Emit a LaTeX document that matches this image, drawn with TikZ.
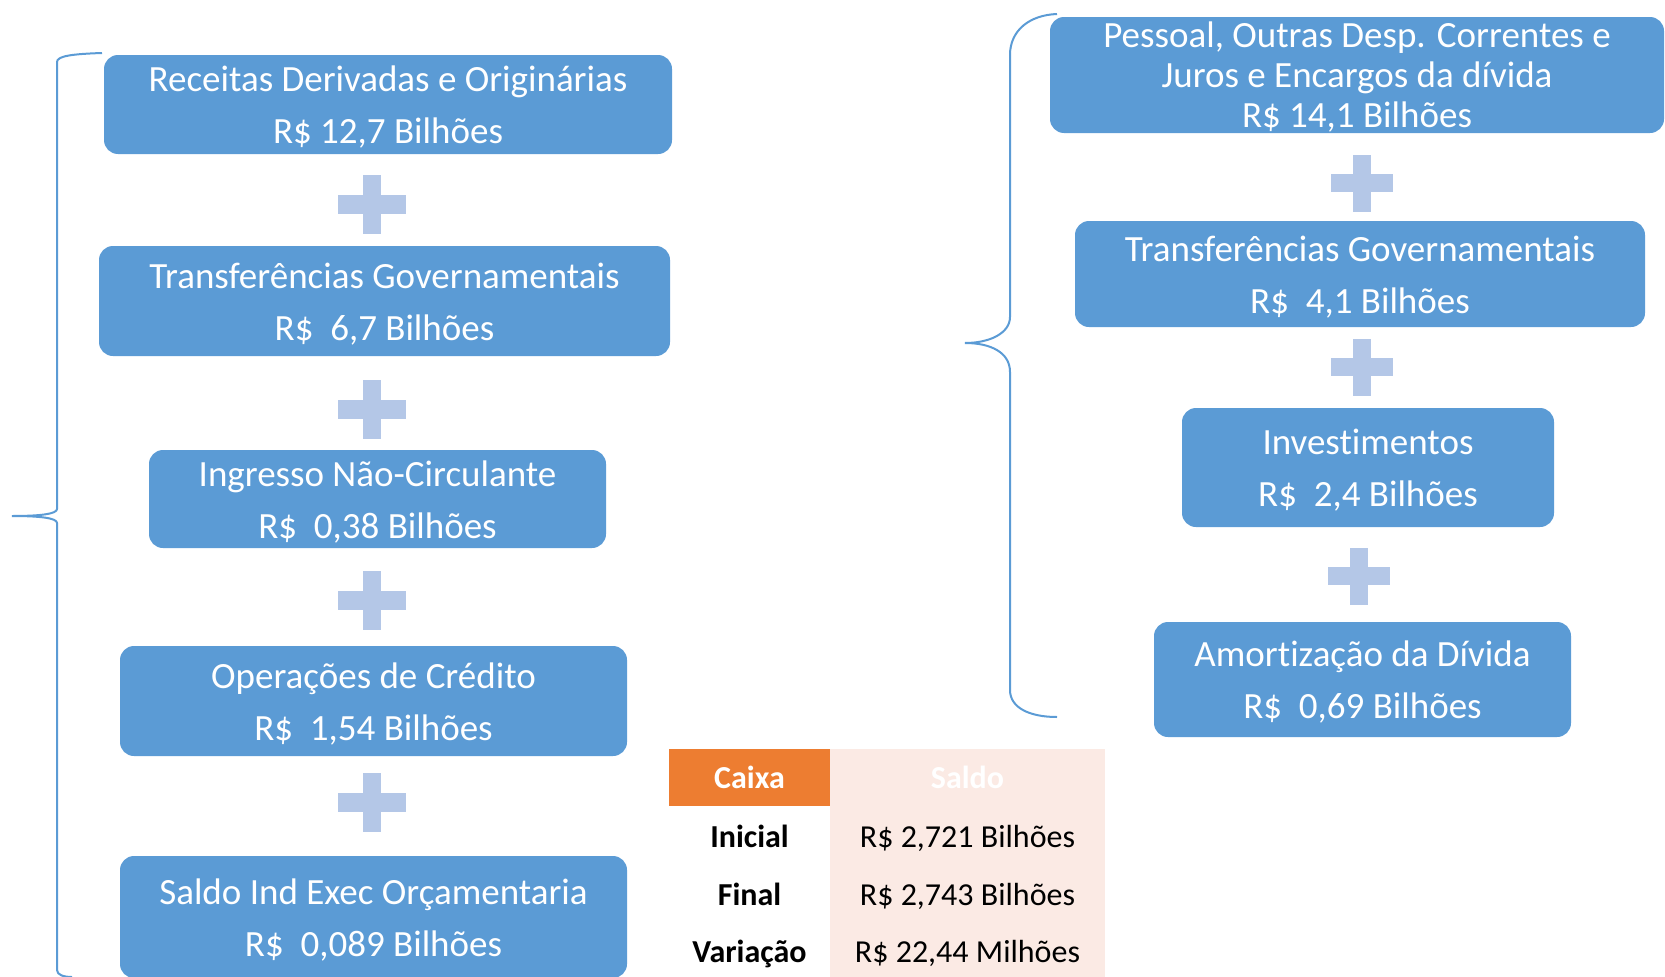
\documentclass[tikz,border=0pt]{standalone}
\usepackage{fontspec}
\setmainfont[Ligatures={NoCommon}]{Carlito}
\definecolor{boxblue}{HTML}{5B9BD5}
\definecolor{plusblue}{HTML}{B4C7E7}
\definecolor{cxorange}{HTML}{ED7D31}
\definecolor{cxpink}{HTML}{FBEAE4}
\newcommand\boxtopstrut{\rule{0pt}{34pt}}
\newcommand\boxbotstrut{\rule[-8pt]{0pt}{0pt}}
\newcommand\smtopstrut{\rule{0pt}{30pt}}
\newcommand\smbotstrut{\rule[-4pt]{0pt}{0pt}}
\begin{document}
\begin{tikzpicture}[x=1pt,y=-1pt,
  bx/.style={fill=boxblue, rounded corners=14pt, text=white, align=center,
    font=\fontsize{37}{52}\selectfont, inner sep=0pt, outer sep=0pt},
  brace/.style={draw=boxblue, line width=2pt},
  plusshape/.style={fill=plusblue},
  cellbg/.style={inner sep=0pt, outer sep=0pt, minimum width=#1},
  celltxt/.style={inner sep=0pt, outer sep=0pt, text height=22pt, text depth=6pt, font=\fontsize{32}{38}\selectfont},
  hd/.style={celltxt, font=\fontsize{32}{38}\selectfont\bfseries, text=white},
  rowhd/.style={celltxt, font=\fontsize{32}{38}\selectfont\bfseries}
]
\useasboundingbox (0,0) rectangle (1665,977);

% left boxes
\node[bx, minimum width=568, minimum height=99] (l1) at (388,104.5) {\boxtopstrut Receitas Derivadas e Originárias\\R\$ 12,7 Bilhões\boxbotstrut};
\node[bx, minimum width=571, minimum height=110] (l2) at (384.5,301) {\boxtopstrut Transferências Governamentais\\R\$ \ 6,7 Bilhões\boxbotstrut};
\node[bx, minimum width=457, minimum height=98] (l3) at (377.5,499) {\boxtopstrut Ingresso Não-Circulante\\R\$ \ 0,38 Bilhões\boxbotstrut};
\node[bx, minimum width=507, minimum height=110] (l4) at (373.5,701) {\boxtopstrut Operações de Crédito\\R\$ \ 1,54 Bilhões\boxbotstrut};
\node[bx, minimum width=507, minimum height=122] (l5) at (373.5,917) {\boxtopstrut Saldo Ind Exec Orçamentaria\\R\$ \ 0,089 Bilhões\boxbotstrut};

% right boxes
\node[bx, minimum width=614, minimum height=116, font=\fontsize{37}{40}\selectfont] (r1) at (1357,75) {\smtopstrut Pessoal, Outras Desp. Correntes e\\Juros e Encargos da dívida\\R\$ 14,1 Bilhões\smbotstrut};
\node[bx, minimum width=570, minimum height=106] (r2) at (1360,274) {\boxtopstrut Transferências Governamentais\\R\$ \ 4,1 Bilhões\boxbotstrut};
\node[bx, minimum width=372, minimum height=119] (r3) at (1368,467.5) {\boxtopstrut Investimentos\\R\$ \ 2,4 Bilhões\boxbotstrut};
\node[bx, minimum width=417, minimum height=115] (r4) at (1362.5,679.5) {\boxtopstrut Amortização da Dívida\\R\$ \ 0,69 Bilhões\boxbotstrut};

% plus signs left
\foreach \cy in {204,409,600,802}{
  \fill[plusshape] (338,\cy-9.5) rectangle (406,\cy+9.5);
  \fill[plusshape] (363,\cy-29.5) rectangle (381,\cy+29.5);
}
% plus signs right
\foreach \cx/\cy in {1362/183,1362/367,1359/576}{
  \fill[plusshape] (\cx-31,\cy-9) rectangle (\cx+31,\cy+9);
  \fill[plusshape] (\cx-9,\cy-28.5) rectangle (\cx+9,\cy+28.5);
}

% braces
\draw[brace] (102,53) .. controls (72,54) and (57,56) .. (57,62) -- (57,509)
  .. controls (57,514) and (40,516) .. (12,516)
  .. controls (40,516) and (57,518) .. (57,523) -- (57,970)
  .. controls (57,975) and (64,977) .. (72,977);
\draw[brace] (1057,14) .. controls (1030,15) and (1010,30) .. (1010,55) -- (1010,317)
  .. controls (1010,333) and (990,343) .. (965,343)
  .. controls (990,343) and (1010,352) .. (1010,372) -- (1010,690)
  .. controls (1010,708) and (1030,717) .. (1057,717);

% table backgrounds
\node[cellbg=161, minimum height=57, fill=cxorange] (hbg) at (749.5,777.5) {};
\node[cellbg=275, minimum height=228, fill=cxpink] (sbg) at (967.5,863) {};
% table texts
\node[hd] (c0) at (749.5,780.5) {Caixa};
\node[hd] (s0) at (967.5,780.5) {Saldo};
\node[rowhd] (c1) at (749.5,839.5) {Inicial};
\node[celltxt] (s1) at (967.5,839.5) {R\$ 2,721 Bilhões};
\node[rowhd] (c2) at (749.5,897.5) {Final};
\node[celltxt] (s2) at (967.5,897.5) {R\$ 2,743 Bilhões};
\node[rowhd] (c3) at (749.5,954) {Variação};
\node[celltxt] (s3) at (967.5,954) {R\$ 22,44 Milhões};
\end{tikzpicture}
\end{document}
